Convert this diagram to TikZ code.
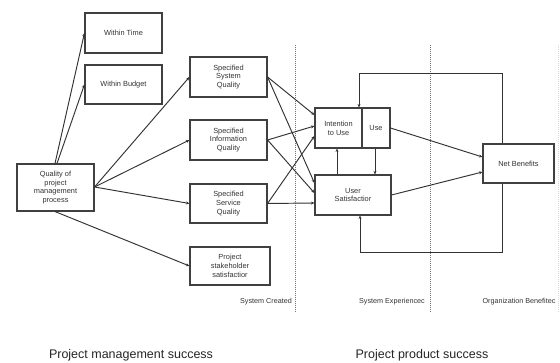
\documentclass[tikz,border=0pt]{standalone}
\usepackage{fontspec}
\setmainfont{Liberation Sans}
\usetikzlibrary{calc,arrows.meta}
\begin{document}
\begin{tikzpicture}[x=1pt,y=-1pt,
  box/.style={draw=black!75,line width=1.1pt,fill=white,inner sep=1pt,align=center,font=\fontsize{7.4}{8.8}\selectfont,text=black!80},
  conn/.style={draw=black!80,line width=0.95pt,-{Stealth[length=3.5pt,width=3pt]}},
  sep/.style={draw=black!55,line width=1pt,densely dotted},
  lab/.style={font=\fontsize{7.2}{8.6}\selectfont,text=black!80},
  big/.style={font=\fontsize{12.5}{14}\selectfont,text=black!85}]
\useasboundingbox (0,0) rectangle (560,363);
\fill[white] (0,0) rectangle (560,363);
% separators
\coordinate (d1t) at (295,45); \coordinate (d1b) at (295,313);
\coordinate (d2t) at (430,45); \coordinate (d2b) at (430,313);
\coordinate (d3t) at (558,45); \coordinate (d3b) at (558,313);
\draw[sep] (d1t) -- (d1b);
\draw[sep] (d2t) -- (d2b);
\draw[sep,draw=black!15] (d3t) -- (d3b);
% nodes
\node[box,minimum width=77pt,minimum height=40pt] (wt) at (123.5,33) {Within Time};
\node[box,minimum width=77pt,minimum height=39pt] (wb) at (123.5,84.5) {Within Budget};
\node[box,minimum width=77pt,minimum height=47pt] (qp) at (55.5,187.5) {Quality of\\project\\management\\process};
\node[box,minimum width=77pt,minimum height=40pt] (ssq) at (228.5,77) {Specified\\System\\Quality};
\node[box,minimum width=77pt,minimum height=40pt] (siq) at (228.5,140) {Specified\\Information\\Quality};
\node[box,minimum width=77pt,minimum height=39pt] (ssv) at (228.5,203.5) {Specified\\Service\\Quality};
\node[box,minimum width=80pt,minimum height=38pt] (pss) at (230,266) {Project\\stakeholder\\satisfactior};
\node[box,minimum width=47pt,minimum height=40pt] (iu) at (338.5,128) {Intention\\to Use};
\node[box,minimum width=28pt,minimum height=40pt] (use) at (376,128) {Use};
\node[box,minimum width=76pt,minimum height=40pt] (us) at (353,195) {User\\Satisfactior};
\node[box,minimum width=71pt,minimum height=39pt] (nb) at (518.5,163.5) {Net Benefits};
% labels
\node[lab] (lsc) at (266,302) {System Created};
\node[lab] (lse) at (392,302) {System Experiencec};
\node[lab] (lob) at (519,302) {Organization Benefitec};
\node[big] (pms) at (131,355) {Project management success};
\node[big] (pps) at (422,355) {Project product success};
% connectors from quality of process
\draw[conn] ($(qp.north)+(-0.5,0)$) -- (wt.west);
\draw[conn] ($(qp.north)+(1.5,0)$) -- (wb.west);
\draw[conn] ($(qp.east)+(0,-0.5)$) -- (ssq.west);
\draw[conn] ($(qp.east)+(0,-0.5)$) -- (siq.west);
\draw[conn] ($(qp.east)+(0,-0.5)$) -- (ssv.west);
\draw[conn] ($(qp.south)+(-0.5,0)$) -- (pss.west);
% system/info/service to intention and satisfaction
\draw[conn] (ssq.east) -- ($(iu.west)+(0,-13)$);
\draw[conn] (ssq.east) -- ($(us.west)+(0,-12)$);
\draw[conn] (siq.east) -- ($(iu.west)+(0,-2)$);
\draw[conn] (siq.east) -- ($(us.west)+(0,-2)$);
\draw[conn] (ssv.east) -- ($(iu.west)+(0,8)$);
\draw[conn] (ssv.east) -- ($(us.west)+(0,8)$);
% between intention/use and satisfaction
\draw[conn] ($(us.north)+(-16,0)$) -- ($(iu.south)+(-1.5,0)$);
\draw[conn] ($(use.south)+(-1,0)$) -- ($(us.north)+(22,0)$);
% to net benefits
\draw[conn] (use.east) -- ($(nb.west)+(0,-6.5)$);
\draw[conn] (us.east) -- ($(nb.west)+(0,8.5)$);
% feedback loops
\coordinate (ft) at (502,73);
\coordinate (fb) at (502,252);
\draw[conn] ($(nb.north)+(-16.5,0)$) -- (ft) -| ($(iu.north)+(20.5,0)$);
\draw[conn] ($(nb.south)+(-16.5,0)$) -- (fb) -| ($(us.south)+(7,0)$);
\end{tikzpicture}
\end{document}
